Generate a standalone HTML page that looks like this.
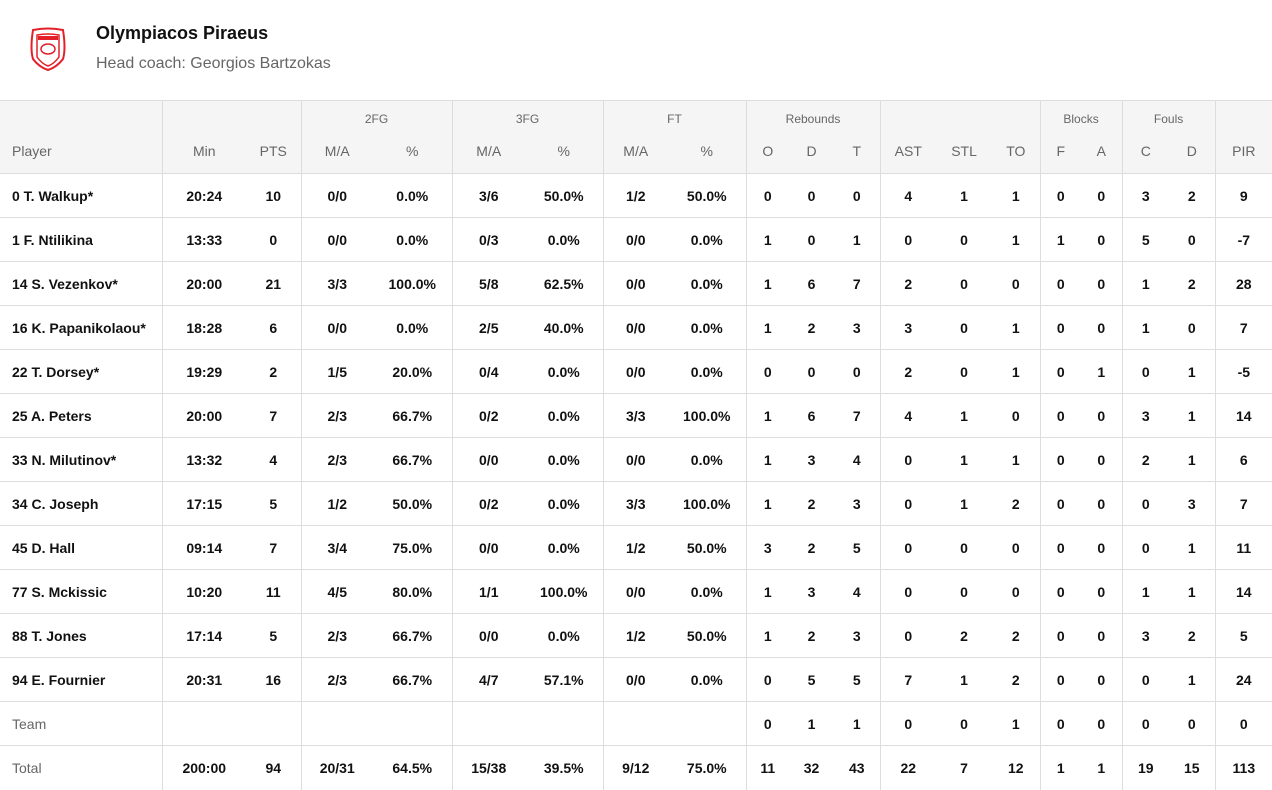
<!DOCTYPE html>
<html><head><meta charset="utf-8"><style>
*{margin:0;padding:0;box-sizing:border-box}
body{width:1272px;height:788px;overflow:hidden;background:#fff;font-family:"Liberation Sans",sans-serif;color:#111}
.hd{height:100px;position:relative}
.t1{position:absolute;left:96px;top:23px;font-size:18px;font-weight:bold;color:#111}
.t2{position:absolute;left:96px;top:55px;font-size:16px;color:#666}
.logo{position:absolute;left:29px;top:27px}
table{border-collapse:collapse;table-layout:fixed;width:1272px}
td,th{text-align:center;font-size:14px;padding:0;white-space:nowrap}
thead th{background:#f5f5f5;color:#666;font-weight:normal}
thead tr.g th{height:33px;font-size:12px;padding-top:4px;border-top:1px solid #ddd}
thead tr.s th{height:40px;font-size:14px;vertical-align:middle;padding-bottom:4px}
tbody td{height:44px;font-weight:bold;border-top:1px solid #ddd}
td.p,th.p{text-align:left;padding-left:12px}
.b{border-right:1px solid #ddd}
tr.tm td{font-weight:bold}
tr.tm td.p{font-weight:normal;color:#666}
</style></head><body>
<div class="hd">
<svg class="logo" width="38" height="44" viewBox="0 0 38 44"><path d="M4 3 Q19 0 34 3 Q37 22 34 32 Q28 40 19 43 Q10 40 4 32 Q1 22 4 3Z" fill="#fff" stroke="#e3202a" stroke-width="2"/><path d="M8 8 Q19 6 30 8 L30 30 Q25 37 19 39 Q13 37 8 30Z" fill="none" stroke="#e3202a" stroke-width="1.5"/><ellipse cx="19" cy="22" rx="7" ry="5" fill="none" stroke="#e3202a" stroke-width="1.5"/><rect x="9" y="9" width="20" height="4" fill="#e3202a"/></svg>
<div class="t1">Olympiacos Piraeus</div>
<div class="t2">Head coach: Georgios Bartzokas</div>
</div>
<table>
<colgroup><col style="width:162px"><col style="width:84px"><col style="width:55px"><col style="width:72px"><col style="width:79px"><col style="width:73px"><col style="width:78px"><col style="width:65px"><col style="width:78px"><col style="width:43px"><col style="width:45px"><col style="width:46px"><col style="width:56px"><col style="width:56px"><col style="width:48px"><col style="width:41px"><col style="width:41px"><col style="width:47px"><col style="width:46px"><col style="width:57px"></colgroup>
<thead>
<tr class="g"><th class="b"></th><th colspan="2" class="b"></th><th colspan="2" class="b">2FG</th><th colspan="2" class="b">3FG</th><th colspan="2" class="b">FT</th><th colspan="3" class="b">Rebounds</th><th colspan="3" class="b"></th><th colspan="2" class="b">Blocks</th><th colspan="2" class="b">Fouls</th><th></th></tr>
<tr class="s"><th class="p b">Player</th><th>Min</th><th class="b">PTS</th><th>M/A</th><th class="b">%</th><th>M/A</th><th class="b">%</th><th>M/A</th><th class="b">%</th><th>O</th><th>D</th><th class="b">T</th><th>AST</th><th>STL</th><th class="b">TO</th><th>F</th><th class="b">A</th><th>C</th><th class="b">D</th><th>PIR</th></tr>
</thead>
<tbody>
<tr><td class="p b">0 T. Walkup*</td><td>20:24</td><td class="b">10</td><td>0/0</td><td class="b">0.0%</td><td>3/6</td><td class="b">50.0%</td><td>1/2</td><td class="b">50.0%</td><td>0</td><td>0</td><td class="b">0</td><td>4</td><td>1</td><td class="b">1</td><td>0</td><td class="b">0</td><td>3</td><td class="b">2</td><td>9</td></tr>
<tr><td class="p b">1 F. Ntilikina</td><td>13:33</td><td class="b">0</td><td>0/0</td><td class="b">0.0%</td><td>0/3</td><td class="b">0.0%</td><td>0/0</td><td class="b">0.0%</td><td>1</td><td>0</td><td class="b">1</td><td>0</td><td>0</td><td class="b">1</td><td>1</td><td class="b">0</td><td>5</td><td class="b">0</td><td>-7</td></tr>
<tr><td class="p b">14 S. Vezenkov*</td><td>20:00</td><td class="b">21</td><td>3/3</td><td class="b">100.0%</td><td>5/8</td><td class="b">62.5%</td><td>0/0</td><td class="b">0.0%</td><td>1</td><td>6</td><td class="b">7</td><td>2</td><td>0</td><td class="b">0</td><td>0</td><td class="b">0</td><td>1</td><td class="b">2</td><td>28</td></tr>
<tr><td class="p b">16 K. Papanikolaou*</td><td>18:28</td><td class="b">6</td><td>0/0</td><td class="b">0.0%</td><td>2/5</td><td class="b">40.0%</td><td>0/0</td><td class="b">0.0%</td><td>1</td><td>2</td><td class="b">3</td><td>3</td><td>0</td><td class="b">1</td><td>0</td><td class="b">0</td><td>1</td><td class="b">0</td><td>7</td></tr>
<tr><td class="p b">22 T. Dorsey*</td><td>19:29</td><td class="b">2</td><td>1/5</td><td class="b">20.0%</td><td>0/4</td><td class="b">0.0%</td><td>0/0</td><td class="b">0.0%</td><td>0</td><td>0</td><td class="b">0</td><td>2</td><td>0</td><td class="b">1</td><td>0</td><td class="b">1</td><td>0</td><td class="b">1</td><td>-5</td></tr>
<tr><td class="p b">25 A. Peters</td><td>20:00</td><td class="b">7</td><td>2/3</td><td class="b">66.7%</td><td>0/2</td><td class="b">0.0%</td><td>3/3</td><td class="b">100.0%</td><td>1</td><td>6</td><td class="b">7</td><td>4</td><td>1</td><td class="b">0</td><td>0</td><td class="b">0</td><td>3</td><td class="b">1</td><td>14</td></tr>
<tr><td class="p b">33 N. Milutinov*</td><td>13:32</td><td class="b">4</td><td>2/3</td><td class="b">66.7%</td><td>0/0</td><td class="b">0.0%</td><td>0/0</td><td class="b">0.0%</td><td>1</td><td>3</td><td class="b">4</td><td>0</td><td>1</td><td class="b">1</td><td>0</td><td class="b">0</td><td>2</td><td class="b">1</td><td>6</td></tr>
<tr><td class="p b">34 C. Joseph</td><td>17:15</td><td class="b">5</td><td>1/2</td><td class="b">50.0%</td><td>0/2</td><td class="b">0.0%</td><td>3/3</td><td class="b">100.0%</td><td>1</td><td>2</td><td class="b">3</td><td>0</td><td>1</td><td class="b">2</td><td>0</td><td class="b">0</td><td>0</td><td class="b">3</td><td>7</td></tr>
<tr><td class="p b">45 D. Hall</td><td>09:14</td><td class="b">7</td><td>3/4</td><td class="b">75.0%</td><td>0/0</td><td class="b">0.0%</td><td>1/2</td><td class="b">50.0%</td><td>3</td><td>2</td><td class="b">5</td><td>0</td><td>0</td><td class="b">0</td><td>0</td><td class="b">0</td><td>0</td><td class="b">1</td><td>11</td></tr>
<tr><td class="p b">77 S. Mckissic</td><td>10:20</td><td class="b">11</td><td>4/5</td><td class="b">80.0%</td><td>1/1</td><td class="b">100.0%</td><td>0/0</td><td class="b">0.0%</td><td>1</td><td>3</td><td class="b">4</td><td>0</td><td>0</td><td class="b">0</td><td>0</td><td class="b">0</td><td>1</td><td class="b">1</td><td>14</td></tr>
<tr><td class="p b">88 T. Jones</td><td>17:14</td><td class="b">5</td><td>2/3</td><td class="b">66.7%</td><td>0/0</td><td class="b">0.0%</td><td>1/2</td><td class="b">50.0%</td><td>1</td><td>2</td><td class="b">3</td><td>0</td><td>2</td><td class="b">2</td><td>0</td><td class="b">0</td><td>3</td><td class="b">2</td><td>5</td></tr>
<tr><td class="p b">94 E. Fournier</td><td>20:31</td><td class="b">16</td><td>2/3</td><td class="b">66.7%</td><td>4/7</td><td class="b">57.1%</td><td>0/0</td><td class="b">0.0%</td><td>0</td><td>5</td><td class="b">5</td><td>7</td><td>1</td><td class="b">2</td><td>0</td><td class="b">0</td><td>0</td><td class="b">1</td><td>24</td></tr>
<tr class="tm"><td class="p b">Team</td><td></td><td class="b"></td><td></td><td class="b"></td><td></td><td class="b"></td><td></td><td class="b"></td><td>0</td><td>1</td><td class="b">1</td><td>0</td><td>0</td><td class="b">1</td><td>0</td><td class="b">0</td><td>0</td><td class="b">0</td><td>0</td></tr>
<tr class="tm"><td class="p b">Total</td><td>200:00</td><td class="b">94</td><td>20/31</td><td class="b">64.5%</td><td>15/38</td><td class="b">39.5%</td><td>9/12</td><td class="b">75.0%</td><td>11</td><td>32</td><td class="b">43</td><td>22</td><td>7</td><td class="b">12</td><td>1</td><td class="b">1</td><td>19</td><td class="b">15</td><td>113</td></tr>
</tbody>
</table>
</body></html>
